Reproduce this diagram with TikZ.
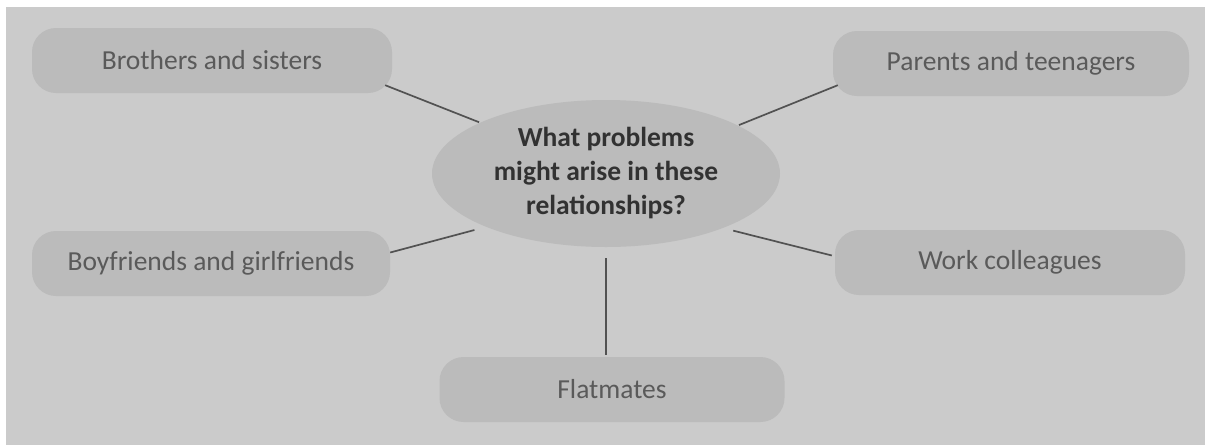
\documentclass[tikz,border=0pt]{standalone}
\usepackage{fontspec}
\setmainfont{Carlito}
\usetikzlibrary{shapes.geometric}
\definecolor{paper}{RGB}{203,203,203}
\definecolor{boxfill}{RGB}{187,187,187}
\definecolor{labeltext}{RGB}{90,90,90}
\definecolor{hubtext}{RGB}{50,50,50}
\definecolor{linkline}{RGB}{82,82,82}
\begin{document}
\begin{tikzpicture}[x=1pt,y=-1pt,
  topic/.style={fill=boxfill, rounded corners=24pt, minimum width=#1,
    minimum height=65pt, inner sep=0pt, text=labeltext,
    font=\fontsize{27.5}{32}\selectfont},
  hub/.style={ellipse, fill=boxfill, minimum width=348pt, minimum height=147pt,
    inner sep=0pt, text=hubtext, align=center,
    font=\fontsize{27.5}{34}\selectfont\bfseries},
  link/.style={draw=linkline, line width=1.7pt}]
% page and margin
\fill[white] (0,0) rectangle (1205,445);
\fill[paper] (6,7) rectangle (1205,445);
\useasboundingbox (0,0) rectangle (1205,445);

% central question
\node[hub] (hub) at (606,173.5) {What problems\\might arise in these\\relationships?};

% relationship boxes
\node[topic=360pt] (bro)  at (212,60.5)  {Brothers and sisters};
\node[topic=356pt] (par)  at (1011,63.5) {Parents and teenagers};
\node[topic=358pt] (boy)  at (211,263.5) {Boyfriends and girlfriends};
\node[topic=350pt] (work) at (1010,262.5){Work colleagues};
\node[topic=345pt] (flat) at (612,389.5) {Flatmates};

% connectors
\draw[link, shorten >=1pt] ([shift={(-7,-8)}]bro.south east) -- (hub.158.3);
\draw[link, shorten >=1pt] ([shift={(5,-11)}]par.south west) -- (hub.20.3);
\draw[link, shorten >=12pt] ([shift={(0,-11)}]boy.east) -- (hub.204);
\draw[link, shorten >=10.5pt] ([shift={(-3,-7)}]work.west) -- (hub.335.6);
\draw[link, shorten <=11pt, shorten >=2pt] (hub.south) -- (hub.south |- flat.north);
\end{tikzpicture}
\end{document}
